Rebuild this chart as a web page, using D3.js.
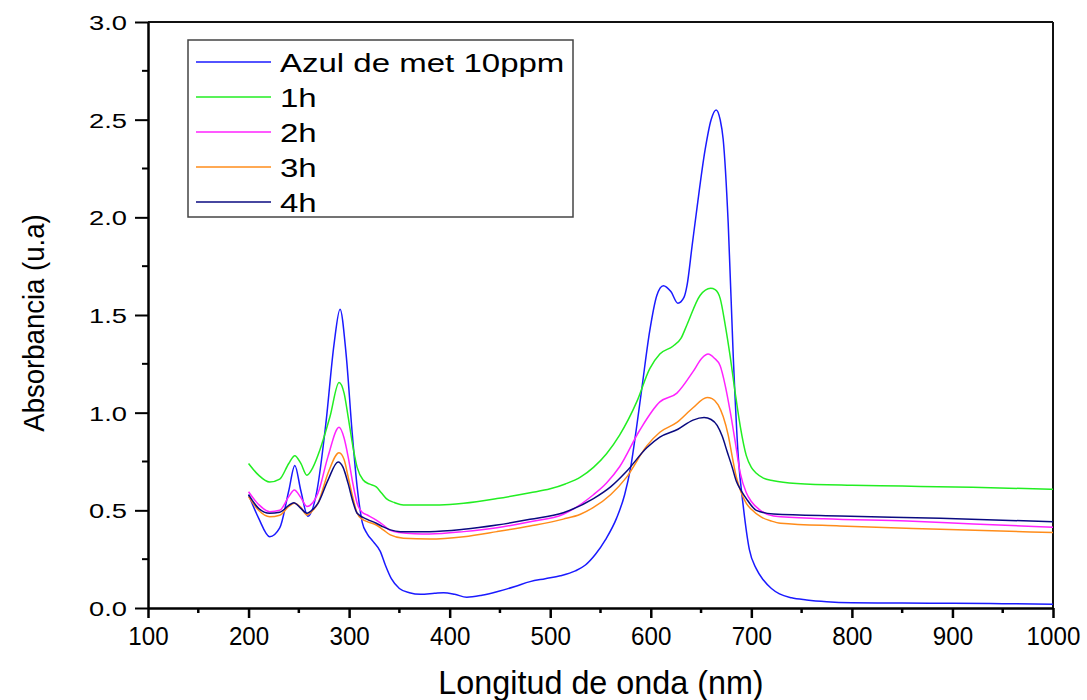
<!DOCTYPE html>
<html>
<head>
<meta charset="utf-8">
<script src="https://cdn.jsdelivr.net/npm/d3@7/dist/d3.min.js"></script>
<style>
  html, body { margin: 0; padding: 0; background: #fff; }
  svg { display: block; font-family: "Liberation Sans", Arial, sans-serif; }
</style>
</head>
<body>
<svg id="chart" width="1087" height="700"></svg>
<script>
// ---- Data ----
const seriesNames = ["Azul de met 10ppm", "1h", "2h", "3h", "4h"];
const seriesColors = ["#1a1aff", "#22ee22", "#ff22ff", "#ff8c1a", "#0a0a80"];

const wlAzul  = [200,210,221,231,240,246,252,259,268,277,285,291,297,303,308,313,318,324,331,336,342,350,360,371,385,394,405,417,432,447,465,480,495,510,525,535,545,555,566,574,580,586,591,599,606,612.5,620,627,633,636,641,646,654,660,665,669,672,677,682,687,692,698,705,712,720,728,740,755,775,800,850,900,950,1000];
const absAzul = [0.58,0.46,0.365,0.41,0.60,0.73,0.60,0.47,0.60,0.95,1.35,1.53,1.30,0.90,0.62,0.44,0.38,0.34,0.29,0.22,0.15,0.10,0.078,0.07,0.075,0.078,0.07,0.055,0.065,0.083,0.11,0.135,0.15,0.165,0.19,0.22,0.275,0.35,0.46,0.58,0.72,0.93,1.12,1.42,1.60,1.65,1.62,1.56,1.59,1.65,1.85,2.05,2.345,2.50,2.55,2.50,2.40,1.97,1.29,0.775,0.52,0.30,0.20,0.143,0.10,0.072,0.052,0.041,0.032,0.027,0.025,0.024,0.022,0.019];

const wl1h  = [200,210,221,231,240,246,252,258,264,271,281,290,295,299,304,308,314,320,327,332,337,345,354,380,400,414,447,480,500,515,530,543,556,569,586,599,609,622,630,636,649,659.6,664,669,674,679,684,689,695,700,705,712,722,745,800,850,920,1000];
const abs1h = [0.74,0.68,0.645,0.66,0.74,0.78,0.74,0.68,0.72,0.81,0.98,1.155,1.10,0.98,0.82,0.72,0.655,0.635,0.62,0.59,0.56,0.54,0.527,0.527,0.53,0.536,0.56,0.59,0.61,0.635,0.67,0.72,0.79,0.885,1.055,1.225,1.30,1.34,1.38,1.45,1.60,1.637,1.63,1.585,1.45,1.287,1.10,0.93,0.78,0.72,0.69,0.665,0.652,0.638,0.628,0.624,0.618,0.608];

const wl2h  = [200,210,221,231,240,245.5,252,258,264,269,279,290,295,299,304,308,313,318,327,334,340,350,365,380,414,447,480,513,543,556,569,589,609,626,642,651,657,663,669,674,679,684,689,695,700,709,722,772,855,921,1000];
const abs2h = [0.595,0.53,0.493,0.50,0.57,0.604,0.565,0.52,0.54,0.587,0.775,0.925,0.87,0.775,0.63,0.536,0.49,0.476,0.45,0.425,0.40,0.386,0.38,0.379,0.391,0.411,0.442,0.48,0.58,0.64,0.723,0.91,1.055,1.10,1.21,1.28,1.30,1.28,1.24,1.14,1.005,0.85,0.69,0.59,0.545,0.50,0.471,0.457,0.445,0.43,0.413];

const wl3h  = [200,210,221,231,240,245.5,252,258,264,269,279,290,295,299,304,308,313,318,327,334,341,354,380,414,447,480,513,530,543,560,576,596,609,626,642,656,661,667,672,677,681,685,690,695,700,710,720,729,788,888,1000];
const abs3h = [0.57,0.50,0.467,0.475,0.52,0.536,0.515,0.476,0.50,0.536,0.69,0.795,0.76,0.672,0.56,0.485,0.455,0.442,0.425,0.40,0.374,0.357,0.353,0.365,0.391,0.42,0.455,0.48,0.515,0.58,0.67,0.83,0.90,0.95,1.025,1.078,1.072,1.04,0.98,0.885,0.775,0.672,0.59,0.536,0.505,0.465,0.445,0.434,0.42,0.403,0.386];

const wl4h  = [200,210,221,231,240,245,252,258,264,269,279,289,294,299,304,308,318,327,334,341,351,380,414,447,480,513,543,560,576,596,609,627,642,653,660,666,671,676,681,685,690,695,705,722,788,888,1000];
const abs4h = [0.58,0.51,0.485,0.49,0.525,0.539,0.51,0.485,0.505,0.536,0.655,0.748,0.72,0.638,0.54,0.485,0.454,0.434,0.415,0.40,0.391,0.391,0.403,0.425,0.454,0.488,0.56,0.62,0.70,0.82,0.875,0.915,0.962,0.975,0.965,0.935,0.88,0.80,0.72,0.65,0.60,0.56,0.50,0.481,0.471,0.459,0.442];

const xTicks = [100,200,300,400,500,600,700,800,900,1000];
const yTicks = [0.0,0.5,1.0,1.5,2.0,2.5,3.0];

const allWl  = [wlAzul, wl1h, wl2h, wl3h, wl4h];
const allAbs = [absAzul, abs1h, abs2h, abs3h, abs4h];

// ---- Layout ----
const svg = d3.select("#chart");
const plot = { left: 148, right: 1053, top: 22, bottom: 608 };

const x = d3.scaleLinear().domain([100, 1000]).range([plot.left, plot.right]);
const y = d3.scaleLinear().domain([0, 3]).range([plot.bottom, plot.top]);

// frame top & right
svg.append("line").attr("x1", plot.left).attr("x2", plot.right).attr("y1", plot.top).attr("y2", plot.top)
  .attr("stroke", "#111").attr("stroke-width", 2);
svg.append("line").attr("x1", plot.right).attr("x2", plot.right).attr("y1", plot.top).attr("y2", plot.bottom)
  .attr("stroke", "#111").attr("stroke-width", 2);

// ---- Curves ----
const line = d3.line().x(d => x(d[0])).y(d => y(d[1])).curve(d3.curveMonotoneX);
const gLines = svg.append("g");
for (let i = 0; i < seriesNames.length; i++) {
  const pts = allWl[i].map((w, k) => [w, allAbs[i][k]]);
  gLines.append("path").datum(pts)
    .attr("d", line)
    .attr("fill", "none")
    .attr("stroke", seriesColors[i])
    .attr("stroke-width", 1.5);
}

// ---- Axes ----
const xMinor = d3.range(150, 1000, 100);
const yMinor = d3.range(0.25, 3, 0.5);

const xAxis = svg.append("g").attr("transform", `translate(0,${plot.bottom})`);
xAxis.call(d3.axisBottom(x).tickValues(xTicks).tickFormat(d3.format("d")).tickSize(10).tickSizeOuter(0));
xAxis.select(".domain").attr("stroke", "#000").attr("stroke-width", 2.5);
xAxis.selectAll(".tick line").attr("stroke", "#000").attr("stroke-width", 2.5);
xAxis.selectAll(".tick text").attr("font-size", 26).attr("fill", "#000")
  .attr("font-family", "'Liberation Sans', Arial, sans-serif")
  .attr("y", null).attr("dy", null)
  .attr("transform", "translate(0,37) scale(0.93,1)");
xAxis.selectAll(".minor").data(xMinor).enter().append("line")
  .attr("x1", d => x(d)).attr("x2", d => x(d)).attr("y1", 0).attr("y2", 5)
  .attr("stroke", "#000").attr("stroke-width", 2.5);

const yAxis = svg.append("g").attr("transform", `translate(${plot.left},0)`);
yAxis.call(d3.axisLeft(y).tickValues(yTicks).tickFormat(d3.format(".1f")).tickSize(13).tickSizeOuter(0));
yAxis.select(".domain").attr("stroke", "#000").attr("stroke-width", 2.5);
yAxis.selectAll(".tick line").attr("stroke", "#000").attr("stroke-width", 2);
yAxis.selectAll(".tick text").attr("font-size", 21).attr("fill", "#000")
  .attr("font-family", "'Liberation Sans', Arial, sans-serif")
  .attr("x", null).attr("dy", null).attr("text-anchor", "end")
  .attr("transform", "translate(-21,7.5) scale(1.3,1)");
yAxis.selectAll(".minor").data(yMinor).enter().append("line")
  .attr("x1", -6).attr("x2", 0).attr("y1", d => y(d)).attr("y2", d => y(d))
  .attr("stroke", "#000").attr("stroke-width", 2);

// ---- Axis titles ----
svg.append("text")
  .attr("transform", "translate(601,694) scale(0.98,1)")
  .attr("text-anchor", "middle")
  .attr("font-size", 33)
  .attr("fill", "#000")
  .text("Longitud de onda (nm)");

svg.append("text")
  .attr("transform", "translate(44,323) rotate(-90) scale(0.95,1)")
  .attr("text-anchor", "middle")
  .attr("font-size", 29)
  .attr("fill", "#000")
  .text("Absorbancia (u.a)");

// ---- Legend ----
const legend = svg.append("g");
legend.append("rect").attr("x", 188).attr("y", 40).attr("width", 385).attr("height", 177)
  .attr("fill", "#fff").attr("stroke", "#444").attr("stroke-width", 1.5);
seriesNames.forEach((name, i) => {
  const ry = 62 + i * 35;
  legend.append("line").attr("x1", 196).attr("x2", 271).attr("y1", ry).attr("y2", ry)
    .attr("stroke", seriesColors[i]).attr("stroke-width", 1.5);
  legend.append("text")
    .attr("transform", `translate(280,${ry + 9.5}) scale(1.27,1)`)
    .attr("font-size", 26).attr("fill", "#000")
    .text(name);
});
</script>
</body>
</html>
